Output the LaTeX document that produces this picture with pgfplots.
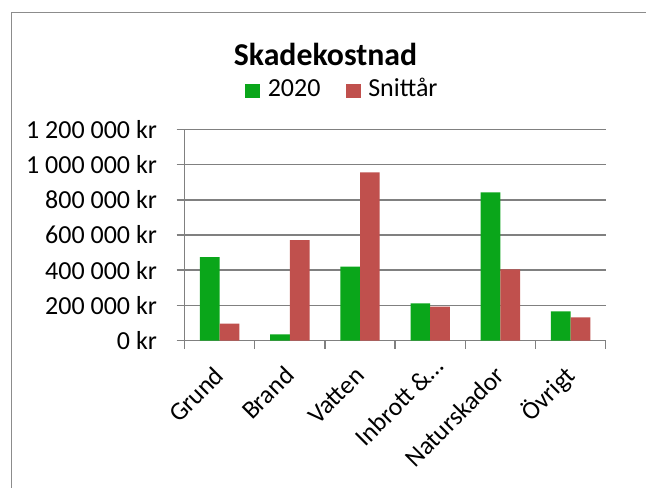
\documentclass[border=0pt]{standalone}
\usepackage{fontspec}
\setmainfont{Carlito}
\usepackage{pgfplots}
\pgfplotsset{compat=1.18}
\definecolor{cgreen}{RGB}{10,166,26}
\definecolor{cred}{RGB}{192,80,77}
\definecolor{cgrid}{RGB}{128,128,128}
\definecolor{cborder}{RGB}{140,140,140}
\begin{document}
\begin{tikzpicture}
\useasboundingbox (0,0) rectangle (323pt,243.5pt);
\fill[white] (0,0) rectangle (323pt,243.5pt);
\draw[cborder, line width=0.7pt] (5.75pt,-1pt) -- (5.75pt,237.15pt) -- (324pt,237.15pt);
\node[font=\bfseries\fontsize{15.9}{18}\selectfont, anchor=base, inner sep=0pt] at (162.75pt,210.5pt) {Skadekostnad};
\begin{axis}[
  at={(92.25pt,73.15pt)}, anchor=south west,
  scale only axis, width=210.6pt, height=105.7pt,
  xmin=-0.5, xmax=5.5, ymin=0, ymax=1200000,
  axis x line*=bottom, axis y line*=left,
  axis line style={cgrid, line width=0.75pt},
  ybar=0pt, bar width=9.85pt,
  xtick={-0.5,0.5,...,5.5},
  x tick label as interval,
  xticklabels={Grund,Brand,Vatten,Inbrott \&…\kern-6.5pt,Naturskador,Övrigt},
  ytick={0,200000,400000,600000,800000,1000000,1200000},
  yticklabels={0 kr,200 000 kr,400 000 kr,600 000 kr,800 000 kr,1 000 000 kr,1 200 000 kr},
  scaled y ticks=false,
  tick align=outside, major tick length=4pt,
  tick style={cgrid, line width=0.75pt},
  ymajorgrids, grid style={cgrid, line width=0.75pt},
  yticklabel style={anchor=east, inner sep=0pt, xshift=-9.6pt, font=\fontsize{13}{15}\selectfont},
  xticklabel style={inner sep=0pt, font=\fontsize{12.8}{15}\selectfont, xshift=3pt, yshift=-14.25pt, rotate=45, anchor=base east},
  legend style={at={(axis description cs:0.3727,1.19)}, anchor=center, draw=none, fill=none,
    inner sep=0pt, outer sep=0pt, font=\fontsize{13}{15}\selectfont, legend columns=-1,
    nodes={inner sep=0pt},
    /tikz/every odd column/.append style={column sep=3.85pt},
    /tikz/every even column/.append style={column sep=12.7pt}},
  legend image code/.code={\fill[#1] (0pt,-4.6pt) rectangle (7.35pt,2.75pt);},
]
\addplot[fill=cgreen, draw=none] coordinates {(0,475000) (1,36000) (2,420000) (3,212000) (4,842000) (5,167000)};
\addplot[fill=cred, draw=none] coordinates {(0,97000) (1,571000) (2,956000) (3,193000) (4,405000) (5,133000)};
\legend{2020,Snittår}
\end{axis}
\end{tikzpicture}
\end{document}
